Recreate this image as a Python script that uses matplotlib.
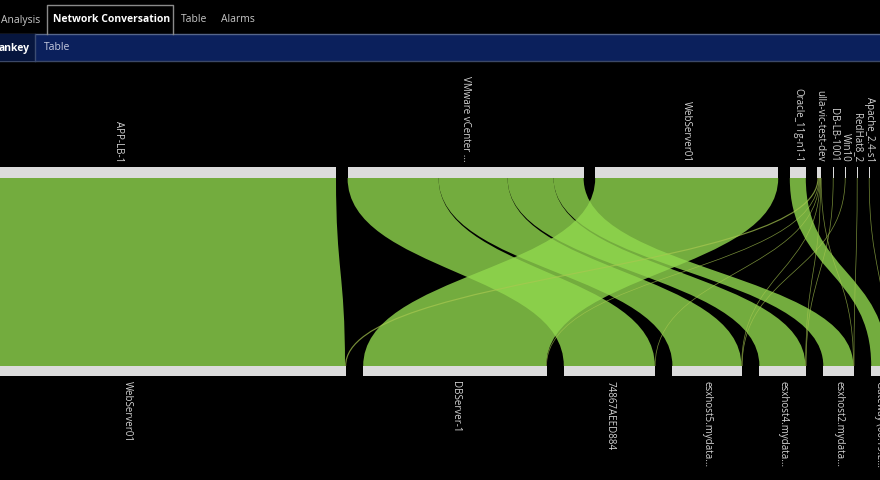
import matplotlib
matplotlib.use("Agg")
import matplotlib.pyplot as plt
from matplotlib.path import Path
from matplotlib.patches import PathPatch, Rectangle

# nodes on the top row (sources) and bottom row (targets)
top_nodes = ['APP-LB-1', 'VMware vCenter ...', 'WebServer01', 'Oracle_11g-n1-1',
             'ulla-vic-test-dev', 'DB-LB-1001', 'Win10', 'RedHat8_2', 'Apache_2.4-s1']
bottom_nodes = ['WebServer01', 'DBServer-1', '74867AEED884', 'esxhost5.mydata...',
                'esxhost4.mydata...', 'esxhost2.mydata...', 'Gateway (00:19:E...']

# conversations: source index -> target index, traffic
link_src = [0, 1, 1, 1, 1, 2, 3, 4, 4, 4, 4, 4, 4, 5, 6, 7, 8]
link_dst = [0, 2, 3, 4, 5, 1, 6, 0, 1, 2, 3, 4, 5, 4, 3, 5, 6]
link_val = [436, 91, 69, 46, 30, 183, 16, 1.2, 0.6, 0.6, 0.6, 0.5, 0.5, 0.4, 0.4, 0.4, 0.4]

tabs = ['Analysis', 'Network Conversation', 'Table', 'Alarms']
subtabs = ['ankey', 'Table']

# layout (pixels)
W, H = 880, 480
TOP_X0, TOP_GAP = -100, 11.6
BOT_X0, BOT_GAP = -91, 17
TOP_Y0, TOP_Y1 = 167, 178
BOT_Y0, BOT_Y1 = 366, 376
GREEN = '#91d84e'
THIN = '#a8c850'
NODE = '#dcdcdc'
TXT = '#d4d4d4'

plt.rcParams['font.family'] = ['Open Sans', 'DejaVu Sans']

fig = plt.figure(figsize=(W / 100, H / 100), dpi=100, facecolor='black')
ax = fig.add_axes([0, 0, 1, 1])
ax.set_xlim(0, W)
ax.set_ylim(H, 0)
ax.axis('off')
ax.set_facecolor('black')


def node_sizes(n, key):
    sizes = [0.0] * n
    for s, d, v in zip(link_src, link_dst, link_val):
        sizes[s if key == 'src' else d] += v
    return sizes


top_size = node_sizes(len(top_nodes), 'src')
bot_size = node_sizes(len(bottom_nodes), 'dst')

top_pos = []
x = TOP_X0
for s in top_size:
    top_pos.append(x)
    x += s + TOP_GAP
bot_pos = []
x = BOT_X0
for s in bot_size:
    bot_pos.append(x)
    x += s + BOT_GAP

# links: at source ordered by target, at target ordered by source
order = sorted(range(len(link_val)), key=lambda i: (link_src[i], link_dst[i]))
src_off = list(top_pos)
src_x = {}
for i in order:
    src_x[i] = src_off[link_src[i]]
    src_off[link_src[i]] += link_val[i]
order = sorted(range(len(link_val)), key=lambda i: (link_dst[i], link_src[i]))
dst_off = list(bot_pos)
dst_x = {}
for i in order:
    dst_x[i] = dst_off[link_dst[i]]
    dst_off[link_dst[i]] += link_val[i]

ym = (TOP_Y1 + BOT_Y0) / 2
for i, v in enumerate(link_val):
    xs, xt = src_x[i], dst_x[i]
    if v >= 1.5:
        verts = [(xs, TOP_Y1), (xs, ym), (xt, ym), (xt, BOT_Y0),
                 (xt + v, BOT_Y0), (xt + v, ym), (xs + v, ym), (xs + v, TOP_Y1),
                 (xs, TOP_Y1)]
        codes = [Path.MOVETO, Path.CURVE4, Path.CURVE4, Path.CURVE4,
                 Path.LINETO, Path.CURVE4, Path.CURVE4, Path.CURVE4, Path.CLOSEPOLY]
        ax.add_patch(PathPatch(Path(verts, codes), facecolor=GREEN, edgecolor='none',
                               alpha=0.8, zorder=2))
    else:
        # hairline conversations
        c = v / 2
        verts = [(xs + c, TOP_Y1), (xs + c, ym), (xt + c, ym), (xt + c, BOT_Y0)]
        codes = [Path.MOVETO, Path.CURVE4, Path.CURVE4, Path.CURVE4]
        ax.add_patch(PathPatch(Path(verts, codes), facecolor='none', edgecolor=THIN,
                               lw=max(v * 0.72, 0.5), alpha=0.7, zorder=2))

# node bars and labels
for name, x0, s in zip(top_nodes, top_pos, top_size):
    w = max(s, 1.0)
    ax.add_patch(Rectangle((x0, TOP_Y0), w, TOP_Y1 - TOP_Y0, facecolor=NODE,
                           edgecolor='none', zorder=3))
    ax.text(x0 + s / 2, TOP_Y0 - 5, name, rotation=-90, rotation_mode='anchor',
            ha='right', va='center', fontsize=7, color=TXT, zorder=4)
for name, x0, s in zip(bottom_nodes, bot_pos, bot_size):
    ax.add_patch(Rectangle((x0, BOT_Y0), s, BOT_Y1 - BOT_Y0, facecolor=NODE,
                           edgecolor='none', zorder=3))
    ax.text(x0 + s / 2, BOT_Y1 + 5, name, rotation=-90, rotation_mode='anchor',
            ha='left', va='center', fontsize=7, color=TXT, zorder=4)

# header tabs
ax.add_patch(Rectangle((0, 34), W, 27, facecolor='#0b205c', edgecolor='none', zorder=5))
ax.plot([0, W], [34, 34], color='#56668a', lw=1, zorder=6)
ax.plot([0, W], [61, 61], color='#3c4866', lw=1, zorder=6)
ax.add_patch(Rectangle((0, 34), 35, 27, facecolor='#07163e', edgecolor='none', zorder=6))
ax.plot([35, 35], [34, 61], color='#3c4c72', lw=1, zorder=7)
ax.plot([47, 47, 173, 173], [34, 5, 5, 34], color='#8a8a8a', lw=1, zorder=6)

tab_x = [1, 53, 181, 221]
for t, x in zip(tabs, tab_x):
    bold = t == 'Network Conversation'
    ax.text(x, 20, t, ha='left', va='center', fontsize=7.5,
            fontweight='bold' if bold else 'normal',
            color='white' if bold else '#c8c8c8', zorder=7)
sub_x = [-1, 44]
for t, x in zip(subtabs, sub_x):
    bold = t == 'ankey'
    ax.text(x, 48, t, ha='left', va='center', fontsize=7.5,
            fontweight='bold' if bold else 'normal',
            color='white' if bold else '#c8cce0', zorder=7)

fig.savefig('out.png', dpi=100, facecolor='black')
